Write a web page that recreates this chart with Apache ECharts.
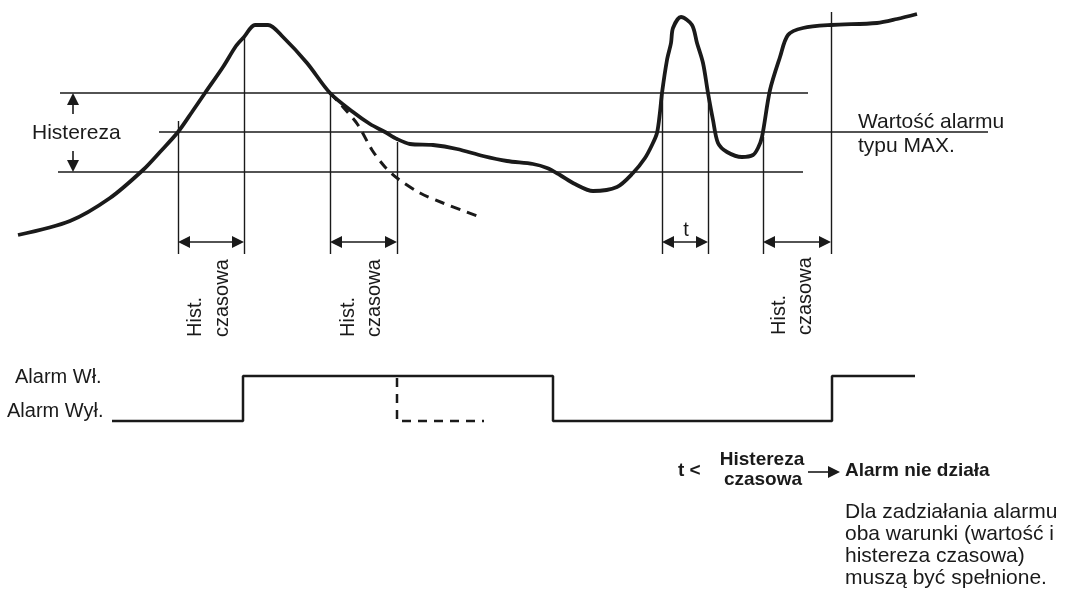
<!DOCTYPE html>
<html><head><meta charset="utf-8">
<script src="https://cdn.jsdelivr.net/npm/echarts@6/dist/echarts.min.js"></script>
<style>html,body{margin:0;padding:0;background:#fff}#c{width:1068px;height:595px}</style>
</head><body><div id="c"></div>
<script>
// Measured signal (x = time, y = level in drawing units, downward)
const signal = [[18,235],[70,221],[110,198],[143,170],[160,152],[178,132],[192,112],[205,93],[223,67],[236,46],[244,37],[255,25],[268,25],[283,37],[307,63],[330,93],[353,112],[370,124],[385,132],[397,139],[410,144],[433,145],[457,149],[483,156],[507,161],[533,164],[547,168],[560,175],[575,184],[593,191],[617,187],[633,173],[645,158],[652,145],[657,133],[660,112],[662,93],[667,60],[671,43],[673,28],[681,17],[692,25],[697,43],[703,63],[708,93],[713,120],[718,143],[727,152],[742,157],[753,155],[758,148],[762,137],[770,90],[780,57],[788,35],[803,28],[831,25],[877,23],[897,19],[917,14]];
const signalAlt = [[330,93],[343,107],[358,125],[372,150],[385,167],[397,178],[420,193],[443,203],[480,217]];
// Threshold levels: upper hysteresis, alarm value, lower hysteresis
const levelValues = [93, 132, 172];
const levelFrom = [60, 159, 58];
const levelTo = [808, 988, 803];
// Time hysteresis intervals
const delayStart = [178, 330, 662, 763];
const delayEnd = [244, 397, 708, 831];
const delayTopStart = [121, 93, 93, 137];
const delayTopEnd = [37, 142, 93, 12];
// Alarm output state
const alarmState = [[112,421],[243,421],[243,376],[553,376],[553,421],[832,421],[832,376],[915,376]];
const alarmStateAlt = [[397,378],[397,421],[484,421]];

const INK = '#1a1a1a';
const FONT = "'Liberation Sans', Arial, sans-serif";
const AH = 12; // arrow head size

function arrowSeg(a, b, headA, headB) {
  const dx = b[0]-a[0], dy = b[1]-a[1], L = Math.hypot(dx, dy);
  const ux = dx/L, uy = dy/L, s = AH/2;
  const p = headA ? [a[0]+ux*s, a[1]+uy*s] : a;
  const q = headB ? [b[0]-ux*s, b[1]-uy*s] : b;
  return { coords: [p, q], symbol: [headA ? 'triangle' : 'none', headB ? 'triangle' : 'none'] };
}

const levelLines = levelValues.map((v, i) => ({ coords: [[levelFrom[i], v], [levelTo[i], v]] }));
const verticals = [];
delayStart.forEach((x, i) => {
  verticals.push({ coords: [[x, delayTopStart[i]], [x, 254]] });
  verticals.push({ coords: [[delayEnd[i], delayTopEnd[i]], [delayEnd[i], 254]] });
});
const arrows = delayStart.map((x, i) => arrowSeg([x, 242], [delayEnd[i], 242], true, true));
arrows.push(arrowSeg([73, 114], [73, levelValues[0]], false, true));
arrows.push(arrowSeg([73, 151], [73, levelValues[2]], false, true));
arrows.push(arrowSeg([808, 472], [840, 472], false, true));

const texts = [
  { t: 'Histereza', x: 32, y: 133, align: 'left', f: '21px' },
  { t: 'Wartość alarmu', x: 858, y: 122, align: 'left', f: '21px' },
  { t: 'typu MAX.', x: 858, y: 146, align: 'left', f: '21px' },
  { t: 't', x: 686, y: 230, align: 'center', f: '20px' },
  { t: 'Hist.', x: 195, y: 337, align: 'left', f: '20px', rot: true },
  { t: 'czasowa', x: 222, y: 337, align: 'left', f: '20px', rot: true },
  { t: 'Hist.', x: 348, y: 337, align: 'left', f: '20px', rot: true },
  { t: 'czasowa', x: 374, y: 337, align: 'left', f: '20px', rot: true },
  { t: 'Hist.', x: 779, y: 335, align: 'left', f: '20px', rot: true },
  { t: 'czasowa', x: 805, y: 335, align: 'left', f: '20px', rot: true },
  { t: 'Alarm Wł.', x: 15, y: 377, align: 'left', f: '20px' },
  { t: 'Alarm Wył.', x: 7, y: 411, align: 'left', f: '20px' },
  { t: 't <', x: 678, y: 471, align: 'left', f: 'bold 19px' },
  { t: 'Histereza', x: 762, y: 460, align: 'center', f: 'bold 19px' },
  { t: 'czasowa', x: 763, y: 480, align: 'center', f: 'bold 19px' },
  { t: 'Alarm nie działa', x: 845, y: 471, align: 'left', f: 'bold 19px' },
  { t: 'Dla zadziałania alarmu', x: 845, y: 512, align: 'left', f: '21px' },
  { t: 'oba warunki (wartość i', x: 845, y: 534, align: 'left', f: '21px' },
  { t: 'histereza czasowa)', x: 845, y: 556, align: 'left', f: '21px' },
  { t: 'muszą być spełnione.', x: 845, y: 578, align: 'left', f: '21px' }
];

const chart = echarts.init(document.getElementById('c'), null, { renderer: 'canvas' });
chart.setOption({
  animation: false,
  backgroundColor: '#fff',
  grid: { left: 0, right: 0, top: 0, bottom: 0 },
  xAxis: { type: 'value', min: 0, max: 1068, show: false },
  yAxis: { type: 'value', min: 0, max: 595, inverse: true, show: false },
  series: [
    { type: 'lines', coordinateSystem: 'cartesian2d', data: levelLines, silent: true,
      lineStyle: { color: INK, width: 1.6, opacity: 1 }, symbol: 'none' },
    { type: 'lines', coordinateSystem: 'cartesian2d', data: verticals, silent: true,
      lineStyle: { color: INK, width: 1.4, opacity: 1 }, symbol: 'none' },
    { type: 'lines', coordinateSystem: 'cartesian2d', data: arrows, silent: true,
      lineStyle: { color: INK, width: 1.6, opacity: 1 }, symbolSize: AH },
    { type: 'line', data: signalAlt, smooth: 0.3, symbol: 'none', silent: true,
      lineStyle: { color: INK, width: 3, type: [10, 7] } },
    { type: 'line', data: signal, smooth: 0.3, symbol: 'none', silent: true,
      lineStyle: { color: INK, width: 3.8 } },
    { type: 'line', data: alarmState, symbol: 'none', silent: true,
      lineStyle: { color: INK, width: 2.5 } },
    { type: 'line', data: alarmStateAlt, symbol: 'none', silent: true,
      lineStyle: { color: INK, width: 2.5, type: [9, 7] } },
    { type: 'custom', silent: true, data: texts.map(d => [d.x, d.y]),
      renderItem: function (params, api) {
        const d = texts[params.dataIndex];
        const p = api.coord([d.x, d.y]);
        return { type: 'text', x: p[0], y: p[1], rotation: d.rot ? Math.PI / 2 : 0,
          style: { text: d.t, font: d.f + ' ' + FONT, fill: INK, align: d.align, verticalAlign: 'middle' } };
      } }
  ]
});
</script></body></html>
